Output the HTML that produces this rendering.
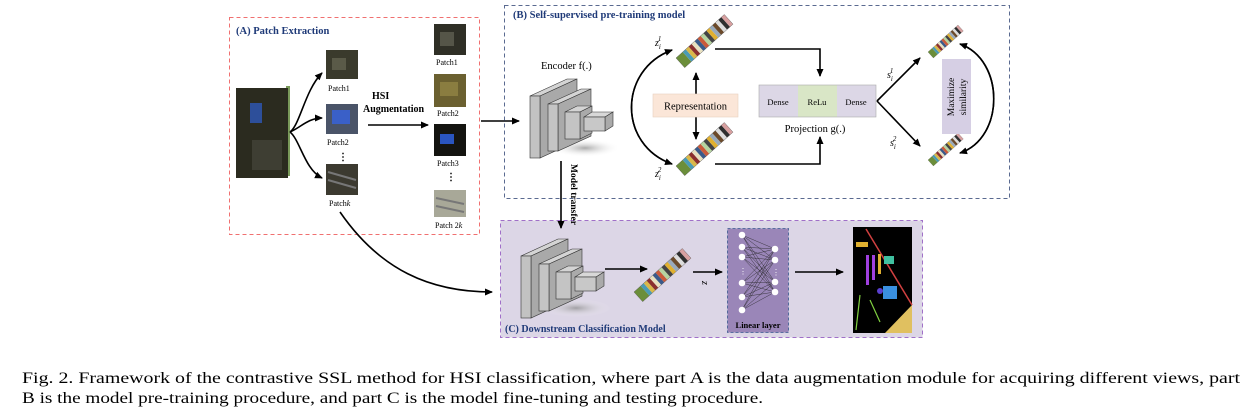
<!DOCTYPE html>
<html><head><meta charset="utf-8"><style>
html,body{margin:0;padding:0;background:#fff;width:1248px;height:413px;overflow:hidden}
svg{display:block}
text{font-family:"Liberation Serif",serif}
</style></head><body>
<svg width="1248" height="413" viewBox="0 0 1248 413" xmlns="http://www.w3.org/2000/svg">
<defs>
<marker id="ah" markerWidth="8" markerHeight="8" refX="7" refY="4" orient="auto" markerUnits="userSpaceOnUse"><path d="M0,0.5 L8,4 L0,7.5 Z" fill="#000"/></marker>
<radialGradient id="sh" cx="0.5" cy="0.5" r="0.5"><stop offset="0" stop-color="#888" stop-opacity="0.7"/><stop offset="1" stop-color="#fff" stop-opacity="0"/></radialGradient>
<g id="enc">
<ellipse cx="585" cy="148" rx="35" ry="9" fill="url(#sh)"/>
<polygon points="530,96 567,79 577,79 540,96" fill="#d4d4d4" stroke="#333" stroke-width="0.6"/>
<polygon points="540,96 577,79 577,141 540,158" fill="#a9a9a9" stroke="#333" stroke-width="0.6"/>
<rect x="530" y="96" width="10" height="62" fill="#c2c2c2" stroke="#333" stroke-width="0.6"/>
<polygon points="548,104 581,89 591,89 558,104" fill="#d4d4d4" stroke="#333" stroke-width="0.6"/>
<polygon points="558,104 591,89 591,136 558,151" fill="#aaa" stroke="#333" stroke-width="0.6"/>
<rect x="548" y="104" width="10" height="47" fill="#c4c4c4" stroke="#333" stroke-width="0.6"/>
<polygon points="565,112 577,106 592,106 580,112" fill="#d4d4d4" stroke="#333" stroke-width="0.6"/>
<polygon points="580,112 592,106 592,133 580,139" fill="#aaa" stroke="#333" stroke-width="0.6"/>
<rect x="565" y="112" width="15" height="27" fill="#c4c4c4" stroke="#333" stroke-width="0.6"/>
<polygon points="584,117 592,112 613,112 605,117" fill="#d8d8d8" stroke="#333" stroke-width="0.6"/>
<polygon points="605,117 613,112 613,126 605,131" fill="#aaa" stroke="#333" stroke-width="0.6"/>
<rect x="584" y="117" width="21" height="14" fill="#c8c8c8" stroke="#333" stroke-width="0.6"/>
</g>
<g id="vec">
<rect x="0" y="0" width="9" height="13" fill="#6b8e3a"/><rect x="9" y="0" width="4" height="13" fill="#4a9bb5"/><rect x="13" y="0" width="4" height="13" fill="#d9b84a"/><rect x="17" y="0" width="4" height="13" fill="#8b2f2f"/><rect x="21" y="0" width="4" height="13" fill="#e8e0c0"/><rect x="25" y="0" width="4" height="13" fill="#3a5a8a"/><rect x="29" y="0" width="4" height="13" fill="#c95a3a"/><rect x="33" y="0" width="4" height="13" fill="#b6d4a0"/><rect x="37" y="0" width="4" height="13" fill="#444"/><rect x="41" y="0" width="4" height="13" fill="#e0b030"/><rect x="45" y="0" width="4" height="13" fill="#9ab"/><rect x="49" y="0" width="4" height="13" fill="#6b4a2a"/><rect x="53" y="0" width="4" height="13" fill="#ddd"/><rect x="57" y="0" width="4" height="13" fill="#2f2f2f"/><rect x="61" y="0" width="4" height="13" fill="#d8a0a0"/>
<rect x="0" y="0" width="65" height="13" fill="none" stroke="#555" stroke-width="0.4"/>
</g>
</defs>

<!-- Box A -->
<rect x="229.5" y="17.5" width="250" height="217" fill="none" stroke="#f07070" stroke-width="1" stroke-dasharray="4,3"/>
<text x="236" y="34" font-size="10.5" font-weight="bold" fill="#1f3a78">(A)  Patch Extraction</text>
<rect x="286" y="86" width="4" height="90" fill="#7a9a5a"/>
<rect x="236" y="88" width="52" height="90" fill="#2b2b1f"/>
<rect x="250" y="103" width="12" height="20" fill="#2d4f9a"/>
<rect x="252" y="140" width="30" height="30" fill="#3e3e33"/>
<path d="M290,132 C300,125 305,90 322,73" fill="none" stroke="#000" stroke-width="1.6" marker-end="url(#ah)"/>
<path d="M290,132 C300,128 308,118 322,118" fill="none" stroke="#000" stroke-width="1.6" marker-end="url(#ah)"/>
<path d="M290,132 C300,140 305,170 322,178" fill="none" stroke="#000" stroke-width="1.6" marker-end="url(#ah)"/>
<rect x="326" y="50" width="32" height="29" fill="#3a3a2c"/><rect x="332" y="58" width="14" height="12" fill="#5a5a48"/>
<text x="328" y="91" font-size="8">Patch1</text>
<rect x="326" y="104" width="32" height="30" fill="#4a5468"/><rect x="332" y="110" width="18" height="14" fill="#3a60c8"/>
<text x="327" y="145" font-size="8">Patch2</text>
<text x="338" y="160" font-size="10" font-weight="bold">⋮</text>
<rect x="326" y="164" width="32" height="31" fill="#3c3a30"/><path d="M328,172 L356,180 M328,180 L356,188" stroke="#777" stroke-width="2"/>
<text x="329" y="206" font-size="8">Patch<tspan font-style="italic">k</tspan></text>
<text x="372" y="99" font-size="10" font-weight="bold">HSI</text>
<text x="363" y="112" font-size="10" font-weight="bold">Augmentation</text>
<line x1="368" y1="125" x2="428" y2="125" stroke="#000" stroke-width="1.6" marker-end="url(#ah)"/>
<rect x="434" y="24" width="32" height="31" fill="#2f2f26"/><rect x="440" y="32" width="14" height="14" fill="#555548"/>
<text x="436" y="65" font-size="8">Patch1</text>
<rect x="434" y="74" width="32" height="33" fill="#6b6030"/><rect x="440" y="82" width="18" height="14" fill="#8a7d40"/>
<text x="437" y="116" font-size="8">Patch2</text>
<rect x="434" y="124" width="32" height="32" fill="#141410"/><rect x="440" y="134" width="14" height="10" fill="#2a55c0"/>
<text x="437" y="166" font-size="8">Patch3</text>
<text x="446" y="180" font-size="10" font-weight="bold">⋮</text>
<rect x="434" y="190" width="32" height="27" fill="#a8a898"/><path d="M436,198 L464,204 M436,206 L464,212" stroke="#777" stroke-width="2"/>
<text x="435" y="228" font-size="8">Patch 2<tspan font-style="italic">k</tspan></text>
<line x1="481" y1="121" x2="519" y2="121" stroke="#000" stroke-width="1.6" marker-end="url(#ah)"/>

<!-- Box B -->
<rect x="504.5" y="5.5" width="505" height="193" fill="none" stroke="#5a6a90" stroke-width="1" stroke-dasharray="4,3"/>
<text x="513" y="18" font-size="10.5" font-weight="bold" fill="#1f3a78">(B)  Self-supervised pre-training model</text>
<text x="541" y="69" font-size="10.5">Encoder  f(.)</text>
<use href="#enc"/>
<text x="655" y="46" font-size="10" font-style="italic">z<tspan font-size="7" dy="3">i</tspan><tspan font-size="7" dx="-3" dy="-8">1</tspan></text>
<text x="655" y="177" font-size="10" font-style="italic">z<tspan font-size="7" dy="3">i</tspan><tspan font-size="7" dx="-3" dy="-8">2</tspan></text>
<use href="#vec" transform="translate(676,58) rotate(-42)"/>
<use href="#vec" transform="translate(676,166) rotate(-42)"/>
<path d="M672,50 C618,70 618,145 672,164" fill="none" stroke="#000" stroke-width="1.6" marker-end="url(#ah)"/>
<path d="M672,164 C618,145 618,70 672,50" fill="none" stroke="#000" stroke-width="1.6" marker-end="url(#ah)"/>
<line x1="696" y1="94" x2="696" y2="73" stroke="#000" stroke-width="1.6" marker-end="url(#ah)"/>
<line x1="696" y1="117" x2="696" y2="139" stroke="#000" stroke-width="1.6" marker-end="url(#ah)"/>
<rect x="653" y="94" width="85" height="23" fill="#fbe6d8" stroke="#e8d0c0" stroke-width="0.6"/>
<text x="695.5" y="109.5" font-size="10.5" text-anchor="middle">Representation</text>
<polyline points="715,49 820,49 820,76" fill="none" stroke="#000" stroke-width="1.6" marker-end="url(#ah)"/>
<polyline points="715,164 820,164 820,137" fill="none" stroke="#000" stroke-width="1.6" marker-end="url(#ah)"/>
<rect x="759" y="85" width="39" height="32" fill="#dcd7e6"/>
<rect x="798" y="85" width="39" height="32" fill="#d9e6c6"/>
<rect x="837" y="85" width="39" height="32" fill="#dcd7e6"/>
<rect x="759" y="85" width="117" height="32" fill="none" stroke="#aaa" stroke-width="0.6"/>
<text x="778" y="105" font-size="8.5" text-anchor="middle">Dense</text>
<text x="817" y="105" font-size="8.5" text-anchor="middle">ReLu</text>
<text x="856" y="105" font-size="8.5" text-anchor="middle">Dense</text>
<text x="815" y="132" font-size="10.5" text-anchor="middle">Projection  g(.)</text>
<line x1="877" y1="101" x2="920" y2="58" stroke="#000" stroke-width="1.6" marker-end="url(#ah)"/>
<line x1="877" y1="101" x2="920" y2="146" stroke="#000" stroke-width="1.6" marker-end="url(#ah)"/>
<text x="887" y="78" font-size="10" font-style="italic">s<tspan font-size="7" dy="3">i</tspan><tspan font-size="7" dx="-3" dy="-8">1</tspan></text>
<text x="890" y="146" font-size="10" font-style="italic">s<tspan font-size="7" dy="3">i</tspan><tspan font-size="7" dx="-3" dy="-8">2</tspan></text>
<use href="#vec" transform="translate(928,52) scale(0.62) rotate(-42)"/>
<use href="#vec" transform="translate(928,160) scale(0.62) rotate(-42)"/>
<rect x="942" y="59" width="29" height="75" fill="#d6cfe4"/>
<text transform="translate(954,97) rotate(-90)" font-size="9.5" text-anchor="middle">Maximize</text>
<text transform="translate(966,97) rotate(-90)" font-size="9.5" text-anchor="middle">similarity</text>
<path d="M960,44 C1005,60 1005,138 960,153" fill="none" stroke="#000" stroke-width="1.6" marker-end="url(#ah)"/>
<path d="M960,153 C1005,138 1005,60 960,44" fill="none" stroke="#000" stroke-width="1.6" marker-end="url(#ah)"/>

<!-- Box C -->
<rect x="500.5" y="220.5" width="422" height="117" fill="#dcd6e6" stroke="#a070c8" stroke-width="1" stroke-dasharray="4,3"/>
<line x1="561" y1="161" x2="561" y2="228" stroke="#000" stroke-width="1.6" marker-end="url(#ah)"/>
<text transform="translate(571,164) rotate(90)" font-size="9.5" font-weight="bold">Model transfer</text>
<path d="M340,212 C380,270 430,292 492,292" fill="none" stroke="#000" stroke-width="1.6" marker-end="url(#ah)"/>
<use href="#enc" transform="translate(-9,160)"/>
<line x1="605" y1="269" x2="647" y2="269" stroke="#000" stroke-width="1.6" marker-end="url(#ah)"/>
<use href="#vec" transform="translate(634,292) rotate(-42)"/>
<text transform="translate(702,281) rotate(90)" font-size="10" font-style="italic">z</text>
<line x1="693" y1="272" x2="722" y2="272" stroke="#000" stroke-width="1.6" marker-end="url(#ah)"/>
<rect x="727.5" y="228.5" width="61" height="104" fill="#9a86b8" stroke="#3a5a90" stroke-width="0.8" stroke-dasharray="3,2"/>
<g stroke="#222" stroke-width="0.4">
<path d="M742,235 L775,249 M742,235 L775,260 M742,235 L775,282 M742,235 L775,292 M742,247 L775,249 M742,247 L775,260 M742,247 L775,282 M742,247 L775,292 M742,257 L775,249 M742,257 L775,260 M742,257 L775,282 M742,257 L775,292 M742,283 L775,249 M742,283 L775,260 M742,283 L775,282 M742,283 L775,292 M742,297 L775,249 M742,297 L775,260 M742,297 L775,282 M742,297 L775,292 M742,310 L775,249 M742,310 L775,260 M742,310 L775,282 M742,310 L775,292"/>
</g>
<g fill="#fff"><circle cx="742" cy="235" r="3.3"/><circle cx="742" cy="247" r="3.3"/><circle cx="742" cy="257" r="3.3"/><circle cx="742" cy="283" r="3.3"/><circle cx="742" cy="297" r="3.3"/><circle cx="742" cy="310" r="3.3"/><circle cx="775" cy="249" r="3.3"/><circle cx="775" cy="260" r="3.3"/><circle cx="775" cy="282" r="3.3"/><circle cx="775" cy="292" r="3.3"/></g>
<text x="739" y="274" font-size="8" fill="#fff">⋮</text><text x="772" y="275" font-size="8" fill="#fff">⋮</text>
<text x="758" y="328" font-size="8.5" font-weight="bold" text-anchor="middle">Linear layer</text>
<line x1="795" y1="272" x2="843" y2="272" stroke="#000" stroke-width="1.6" marker-end="url(#ah)"/>
<rect x="853" y="227" width="59" height="106" fill="#000"/>
<path d="M866,229 L912,305" stroke="#d04040" stroke-width="1.5"/>
<rect x="856" y="242" width="12" height="5" fill="#e0b030"/>
<rect x="866" y="255" width="3" height="30" fill="#a040e0"/><rect x="872" y="255" width="3" height="25" fill="#a040e0"/>
<rect x="878" y="254" width="3" height="20" fill="#e0b030"/>
<rect x="884" y="256" width="10" height="8" fill="#40c0a0"/>
<rect x="883" y="286" width="14" height="13" fill="#3a90e0"/><circle cx="880" cy="291" r="3" fill="#5a40d0"/>
<path d="M860,295 L856,330 M870,300 L880,322" stroke="#80d040" stroke-width="1.2"/>
<polygon points="885,333 912,305 912,333" fill="#e0c060"/>
<text x="505" y="332" font-size="10" font-weight="bold" fill="#1f3a78">(C)   Downstream Classification Model</text>

<!-- Caption -->
<text x="22" y="383" font-size="16" textLength="1218" lengthAdjust="spacingAndGlyphs">Fig. 2.    Framework of the contrastive SSL method for HSI classification, where part A is the data augmentation module for acquiring different views, part</text>
<text x="22" y="403" font-size="16" textLength="741" lengthAdjust="spacingAndGlyphs">B is the model pre-training procedure, and part C is the model fine-tuning and testing procedure.</text>
</svg>
</body></html>
